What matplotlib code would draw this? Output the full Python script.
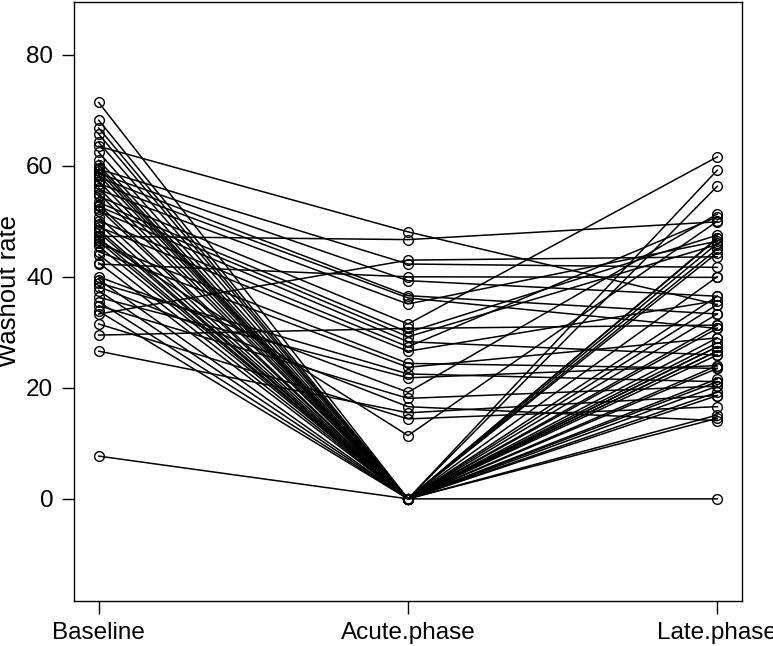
import matplotlib
matplotlib.use("Agg")
import matplotlib.pyplot as plt

phases = ["Baseline", "Acute.phase", "Late.phase"]

baseline = [63.5, 47.3, 33.3, 59.4, 42.3, 58.6, 57.9, 56.8, 55.7, 54.5,
            29.5, 53.4, 52.7, 51.9, 50.1, 49.0, 46.0, 44.5, 38.9, 36.3,
            40.0, 34.8, 38.2, 26.6, 31.5, 46.7,
            71.4, 68.2, 66.8, 65.7, 64.2, 62.4, 60.1, 59.0, 58.3, 57.2,
            55.0, 53.0, 52.3, 49.5, 48.0, 47.0, 46.4, 45.5, 44.0, 42.5,
            39.5, 37.5, 35.5, 33.8, 7.7, 59.6, 56.0, 50.8, 61.0, 48.5]
acute = [48.1, 46.7, 43.0, 42.3, 40.0, 39.3, 36.6, 36.2, 35.1, 31.5,
         30.7, 30.0, 29.2, 28.3, 27.4, 26.6, 24.4, 23.7, 22.5, 21.8,
         19.2, 18.1, 16.6, 15.5, 14.4, 11.4,
         0, 0, 0, 0, 0, 0, 0, 0, 0, 0,
         0, 0, 0, 0, 0, 0, 0, 0, 0, 0,
         0, 0, 0, 0, 0, 0, 0, 0, 0, 0]
late = [35.0, 49.9, 43.6, 41.7, 39.9, 36.5, 33.3, 30.7, 46.4, 61.6,
        31.3, 47.5, 45.8, 25.9, 50.8, 35.7, 23.5, 29.0, 21.1, 24.0,
        51.3, 20.3, 14.1, 18.6, 16.6, 50.0,
        28.1, 27.4, 59.2, 56.3, 26.6, 46.9, 44.3, 25.9, 24.0, 21.6,
        20.3, 15.1, 18.6, 30.7, 29.0, 31.3, 33.3, 35.0, 36.5, 27.4,
        26.6, 23.5, 21.1, 19.2, 0.0, 46.0, 47.0, 40.0, 45.0, 14.5]

W, H = 773, 646
fig = plt.figure(figsize=(W / 100, H / 100), dpi=100)
ax = fig.add_axes([74 / W, (H - 601) / H, (742 - 74) / W, (601 - 2) / H])

xs = [1, 2, 3]
for b, a, l in zip(baseline, acute, late):
    ax.plot(xs, [b, a, l], color="black", lw=1.1, marker="o", ms=7,
            mfc="none", mec="black", mew=1.0)

ax.set_xlim(0.92, 3.08)
ax.set_ylim(-18.4, 89.5)
ax.set_xticks(xs)
ax.set_xticklabels(phases)
ax.set_yticks([0, 20, 40, 60, 80])
ax.set_ylabel("Washout rate", fontsize=18.5, family="Liberation Sans")
ax.yaxis.set_label_coords(-0.079, 0.5175)
for lab in ax.get_xticklabels() + ax.get_yticklabels():
    lab.set_fontsize(17.5)
    lab.set_family("Liberation Sans")
ax.tick_params(direction="out", length=9, width=1, pad=6)
for s in ax.spines.values():
    s.set_linewidth(1)

fig.savefig("out.png", dpi=100)
